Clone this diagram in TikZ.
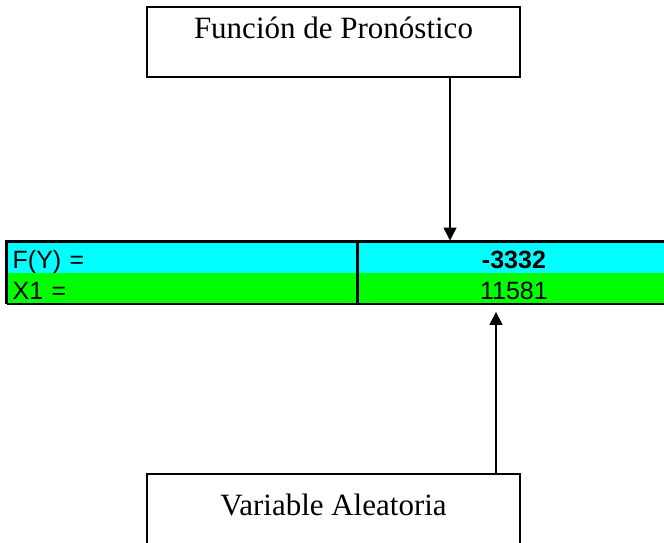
\documentclass[tikz,border=0pt]{standalone}
\usepackage{fontspec}
\setmainfont{Liberation Serif}
\newfontfamily\arialf{Liberation Sans}
\usetikzlibrary{arrows.meta}
\definecolor{cyanc}{RGB}{0,255,255}
\definecolor{greenc}{RGB}{0,255,0}
\begin{document}
\begin{tikzpicture}[x=1pt,y=-1pt,
  box/.style={draw,line width=1.5pt,minimum width=373pt,minimum height=70pt,inner sep=0pt,
    font=\fontsize{31}{37}\selectfont},
  cell/.style={inner sep=0pt,minimum height=31pt,text height=22pt,text depth=0pt,anchor=north west,
    font=\arialf\fontsize{25}{30}\selectfont},
  lcell/.style={cell,inner xsep=6pt,text width=339pt,align=left},
  rcell/.style={cell,minimum width=312.5pt},
  arr/.style={line width=1.5pt,-{Triangle[width=13pt,length=13pt]}}]
\useasboundingbox (0,0) rectangle (664,542);
\clip (0,0) rectangle (664,542);
\node[box,text height=20pt,text depth=28pt] (top) at (333.5,42) {Función de Pronóstico};
\node[box,text height=20pt,text depth=8pt] (bot) at (333.5,509) {Variable Aleatoria};
\node[lcell,fill=cyanc] (fyl) at (6.5,241.5) {F(Y) =};
\node[rcell,fill=cyanc] (fyv) at (357.5,241.5) {\bfseries -3332};
\node[lcell,fill=greenc] (x1l) at (6.5,272.5) {X1 =};
\node[rcell,fill=greenc] (x1v) at (357.5,272.5) {11581};
\draw[line width=3pt,line cap=rect] (fyl.north west) -- (fyv.north east);
\draw[line width=3pt] (fyl.north west) -- (x1l.south west);
\draw[line width=3pt] (fyl.north east) -- (x1l.south east);
\draw[line width=2.5pt] (x1l.south west) -- (x1v.south east);
\coordinate (a1) at (450,0);
\coordinate (a2) at (496,0);
\draw[arr] (top.south -| a1) -- ([yshift=1pt]fyv.north -| a1);
\draw[arr] (bot.north -| a2) -- ([yshift=-8pt]x1v.south -| a2);
\end{tikzpicture}
\end{document}
